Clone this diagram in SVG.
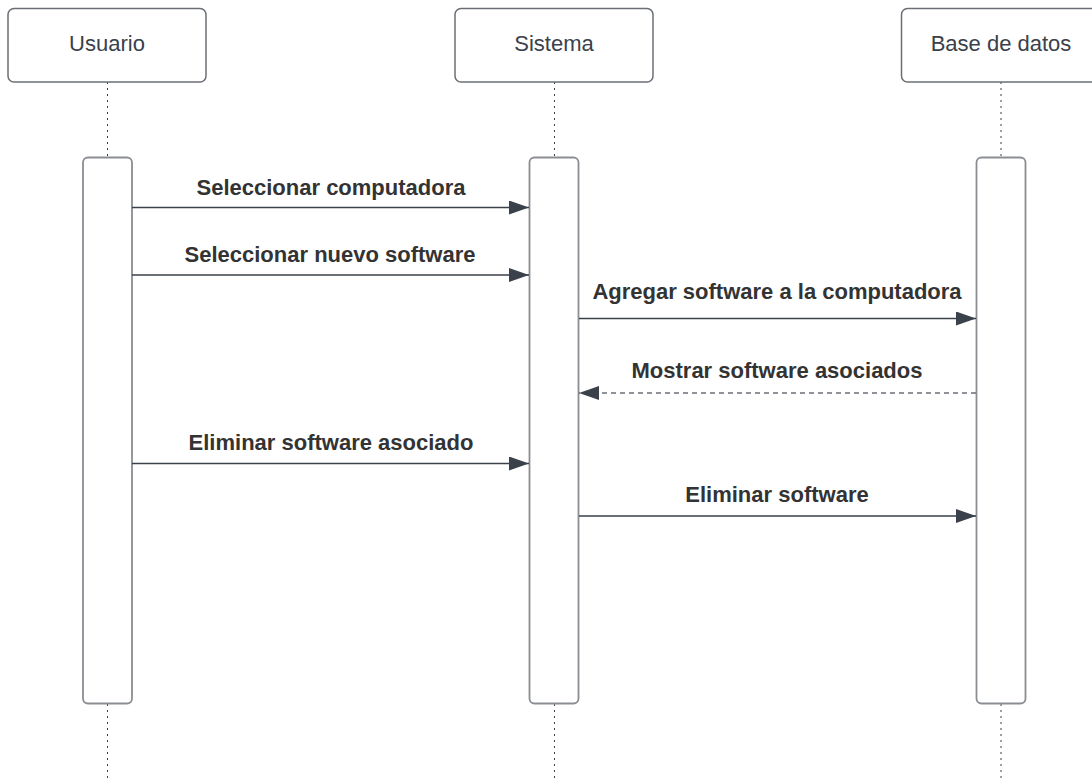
<svg xmlns="http://www.w3.org/2000/svg" width="1092" height="782" viewBox="0 0 1092 782">
<style>
.hdr{fill:#fff;stroke:#6b6f75;stroke-width:1.5}
.act{fill:#fff;stroke:#8a8d92;stroke-width:1.8}
.life{stroke:#3a414a;stroke-width:1;stroke-dasharray:2 4;fill:none}
.msg{stroke:#3a414a;stroke-width:1.5;fill:none}
.dash{stroke:#6b6f75;stroke-dasharray:5 4}
.ht{font-family:"Liberation Sans",Arial,sans-serif;font-size:22px;fill:#3a414a;text-anchor:middle}
.lt{font-family:"Liberation Sans",Arial,sans-serif;font-size:22px;font-weight:bold;fill:#333;text-anchor:middle}
</style>
<defs>
<marker id="ah" viewBox="0 0 20 14" refX="20" refY="7" markerWidth="20" markerHeight="14" markerUnits="userSpaceOnUse" orient="auto">
<path d="M0,0 L20,7 L0,14 z" fill="#3a414a"/>
</marker>
</defs>
<rect width="1092" height="782" fill="#fff"/>
<g id="lifelines">
<line class="life" x1="107.5" y1="82" x2="107.5" y2="157"/>
<line class="life" x1="107.5" y1="704" x2="107.5" y2="782"/>
<line class="life" x1="554.5" y1="82" x2="554.5" y2="157"/>
<line class="life" x1="554.5" y1="704" x2="554.5" y2="782"/>
<line class="life" x1="1001" y1="82" x2="1001" y2="157"/>
<line class="life" x1="1001" y1="704" x2="1001" y2="782"/>
</g>
<g id="usuario">
<rect class="hdr" x="8" y="8.5" width="198" height="73.5" rx="6"/>
<text class="ht" x="107" y="51">Usuario</text>
<rect class="act" x="83" y="157.5" width="49" height="546" rx="5"/>
</g>
<g id="sistema">
<rect class="hdr" x="455" y="8.5" width="198" height="73.5" rx="6"/>
<text class="ht" x="554" y="51">Sistema</text>
<rect class="act" x="529.5" y="157.5" width="49" height="546" rx="5"/>
</g>
<g id="basedatos">
<rect class="hdr" x="901.5" y="8.5" width="198" height="73.5" rx="6"/>
<text class="ht" x="1001" y="51">Base de datos</text>
<rect class="act" x="976.5" y="157.5" width="49" height="546" rx="5"/>
</g>
<g id="connectors">
<line class="msg" x1="132" y1="207.5" x2="529" y2="207.5" marker-end="url(#ah)"/>
<text class="lt" x="331" y="195">Seleccionar computadora</text>
<line class="msg" x1="132" y1="275" x2="529" y2="275" marker-end="url(#ah)"/>
<text class="lt" x="330" y="262">Seleccionar nuevo software</text>
<line class="msg" x1="579" y1="318.5" x2="976" y2="318.5" marker-end="url(#ah)"/>
<text class="lt" x="777" y="299">Agregar software a la computadora</text>
<line class="msg dash" x1="976" y1="393" x2="579" y2="393" marker-end="url(#ah)"/>
<text class="lt" x="777" y="378">Mostrar software asociados</text>
<line class="msg" x1="132" y1="463.5" x2="529" y2="463.5" marker-end="url(#ah)"/>
<text class="lt" x="331" y="450">Eliminar software asociado</text>
<line class="msg" x1="579" y1="516" x2="976" y2="516" marker-end="url(#ah)"/>
<text class="lt" x="777" y="502">Eliminar software</text>
</g>
</svg>
